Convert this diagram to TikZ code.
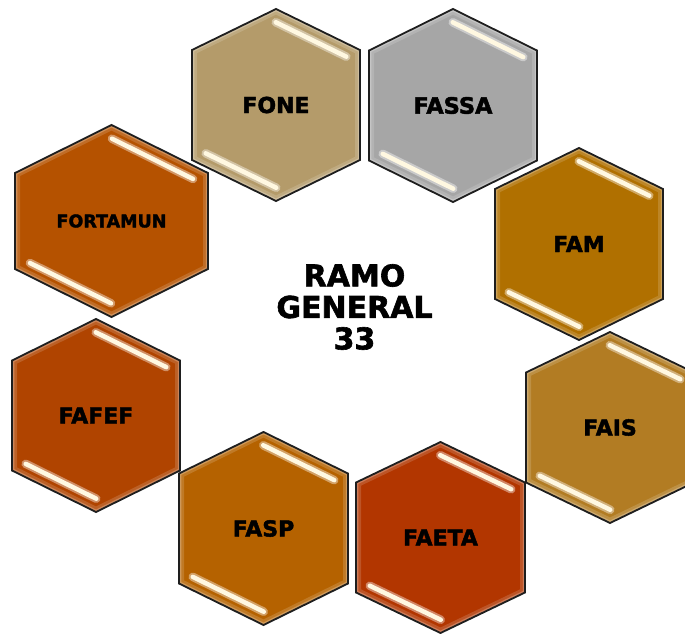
\documentclass[tikz,border=0pt]{standalone}
\usepackage{fontspec}
\setmainfont{DejaVu Sans}[BoldFeatures={FakeBold=2}]
\usetikzlibrary{calc}
\definecolor{cFONE}{RGB}{180,155,106}
\definecolor{cFASSA}{RGB}{166,166,166}
\definecolor{cFAM}{RGB}{176,112,0}
\definecolor{cFORT}{RGB}{181,82,0}
\definecolor{cFAFEF}{RGB}{176,68,0}
\definecolor{cFASP}{RGB}{181,98,0}
\definecolor{cFAETA}{RGB}{178,54,0}
\definecolor{cFAIS}{RGB}{178,124,35}
\definecolor{cream}{RGB}{255,248,225}
\definecolor{edgeline}{RGB}{30,30,30}
\tikzset{
  hexlabel/.style={font=\bfseries\fontsize{#1}{#1}\selectfont, text=black, inner sep=0pt},
  hexedge/.style={draw=edgeline, line width=1.8pt, line join=miter},
  centertext/.style={font=\bfseries\fontsize{30}{31.5}\selectfont, align=center, inner sep=0pt}
}
% #1 name, #2 cx, #3 cy, #4 half width, #5 half height, #6 side vertex offset, #7 colour, #8 text, #9 font size
\newcommand\hexcell[9]{%
  \coordinate (#1-c) at (#2,#3);
  \coordinate (#1-t) at (#2,#3-#5);
  \coordinate (#1-ur) at (#2+#4,#3-#6);
  \coordinate (#1-lr) at (#2+#4,#3+#6);
  \coordinate (#1-b) at (#2,#3+#5);
  \coordinate (#1-ll) at (#2-#4,#3+#6);
  \coordinate (#1-ul) at (#2-#4,#3-#6);
  \fill[#7] (#1-t)--(#1-ur)--(#1-lr)--(#1-b)--(#1-ll)--(#1-ul)--cycle;
  \begin{scope}
    \clip (#1-t)--(#1-ur)--(#1-lr)--(#1-b)--(#1-ll)--(#1-ul)--cycle;
    \draw[#7!85!white, line width=10pt] (#1-t)--(#1-ur)--(#1-lr)--(#1-b)--(#1-ll)--(#1-ul)--cycle;
    \draw[#7!65!white, line width=4.5pt] (#1-t)--(#1-ur)--(#1-lr)--(#1-b)--(#1-ll)--(#1-ul)--cycle;
  \end{scope}
  \coordinate (#1-h1) at ({#2+0.06*#4-5.3},{#3-#5+0.06*(#5-#6)+10.8});
  \coordinate (#1-h2) at ({#2+0.9*#4-5.3},{#3-#5+0.9*(#5-#6)+10.8});
  \coordinate (#1-h3) at ({#2-#4+0.1*#4+5.3},{#3+#6+0.1*(#5-#6)-10.8});
  \coordinate (#1-h4) at ({#2-#4+0.94*#4+5.3},{#3+#6+0.94*(#5-#6)-10.8});
  \draw[#7!60!white, line width=8.5pt, line cap=round] (#1-h1)--(#1-h2);
  \draw[cream, line width=4.5pt, line cap=round] (#1-h1)--(#1-h2);
  \draw[#7!60!white, line width=8.5pt, line cap=round] (#1-h3)--(#1-h4);
  \draw[cream, line width=4.5pt, line cap=round] (#1-h3)--(#1-h4);
  \draw[hexedge] (#1-t)--(#1-ur)--(#1-lr)--(#1-b)--(#1-ll)--(#1-ul)--cycle;
  \node[hexlabel=#9] (#1) at (#1-c) {#8};
}
\begin{document}
\begin{tikzpicture}[x=1pt,y=-1pt]
  \useasboundingbox (0,0) rectangle (685,634);
  \fill[white] (0,0) rectangle (685,634);
  \clip (0,0) rectangle (685,634);
  \hexcell{fone}{276}{105}{84}{96}{55}{cFONE}{FONE}{22}
  \hexcell{fassa}{453}{105.5}{84}{96.5}{55}{cFASSA}{FASSA}{22.5}
  \hexcell{fam}{579}{244}{84}{96}{55}{cFAM}{FAM}{22}
  \hexcell{fortamun}{111.5}{221}{96.5}{96}{48}{cFORT}{FORTAMUN}{17.5}
  \hexcell{fafef}{96}{415.5}{84}{96.5}{55}{cFAFEF}{FAFEF}{22}
  \hexcell{fasp}{263.5}{528.5}{84.5}{96.5}{55}{cFASP}{FASP}{22}
  \hexcell{faeta}{440.5}{537.5}{84.5}{95.5}{55}{cFAETA}{FAETA}{22}
  \hexcell{fais}{610}{427.5}{84}{95.5}{55}{cFAIS}{FAIS}{22}
  \node[centertext] (ramo) at (354.5,307) {RAMO\\GENERAL\\33};
\end{tikzpicture}
\end{document}
